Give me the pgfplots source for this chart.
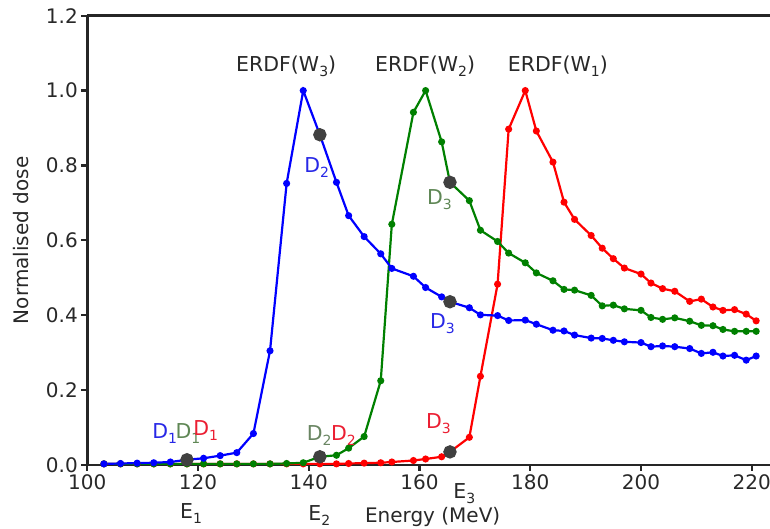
\documentclass[border=0pt]{standalone}
\usepackage{fontspec}
\setmainfont{DejaVu Sans}
\usepackage{pgfplots}
\pgfplotsset{compat=1.18}
\definecolor{mblue}{RGB}{0,0,255}
\definecolor{mgreen}{RGB}{0,128,0}
\definecolor{mred}{RGB}{255,0,0}
\definecolor{dotgray}{RGB}{64,64,64}
\definecolor{txt}{RGB}{40,40,40}
\definecolor{lblblue}{RGB}{40,40,230}
\definecolor{lblgreen}{RGB}{95,135,85}
\definecolor{lblred}{RGB}{235,30,50}
\newcommand{\sub}[1]{\raisebox{-5pt}{\fontsize{14}{14}\selectfont #1}}
\begin{document}
\begin{tikzpicture}
\begin{axis}[name=ax, at={(0,0)}, anchor=south west,
  scale only axis, width=682.7pt, height=449.3pt,
  xmin=100, xmax=223.3, ymin=0, ymax=1.2,
  axis lines*=left,
  axis line style={line width=2.6pt, black!85},
  xtick={100,120,...,220}, ytick={0,0.2,0.4,0.6,0.8,1.0,1.2},
  tick align=outside, major tick length=6pt,
  every tick/.style={line width=2.2pt, black!85},
  tick label style={font=\fontsize{20}{24}\selectfont, text=txt},
  /pgf/number format/assume math mode=true,
  yticklabel style={/pgf/number format/.cd, fixed, fixed zerofill, precision=1},
  xlabel={Energy (MeV)}, ylabel={Normalised dose},
  label style={font=\fontsize{20}{24}\selectfont, text=txt},
  xlabel style={at={(axis description cs:0.5,0)}, anchor=base, inner sep=0pt, yshift=-57.7pt, xshift=4pt},
  ylabel style={at={(axis description cs:0,0.5)}, anchor=south, inner sep=0pt, yshift=58.3pt},
  clip=false,
  every axis plot/.append style={line width=2.2pt, mark=*, mark size=2.4pt},
]
\draw[line width=2.6pt, black!85] (rel axis cs:0,1) -- (rel axis cs:1,1);
% W1 (red)
\addplot[color=mred, mark options={solid, fill=mred, draw=mred}] coordinates {
(103,0.003) (106,0.003) (109,0.003) (112,0.003) (115,0.003) (118,0.003) (121,0.003) (124,0.003) (127,0.003) (130,0.003)
(133,0.003) (136,0.003) (139,0.003) (142,0.003) (145,0.003) (147.2,0.004) (150,0.005) (153,0.006) (155,0.008) (158.9,0.012)
(161.1,0.016) (164,0.022) (165.5,0.035) (169,0.074) (171,0.237) (174.1,0.483) (176.1,0.897) (179.1,1.0) (181.1,0.892) (184.1,0.809)
(186.1,0.702) (188,0.656) (191,0.613) (193,0.579) (195,0.551) (197,0.526) (200,0.510) (201.8,0.486) (203.9,0.471) (206.1,0.464)
(208.8,0.437) (210.9,0.443) (213,0.422) (214.8,0.413) (216.9,0.415) (219,0.403) (220.8,0.385)
};
% W2 (green)
\addplot[color=mgreen, mark options={solid, fill=mgreen, draw=mgreen}] coordinates {
(103,0.003) (106,0.003) (109,0.003) (112,0.003) (115,0.003) (118,0.003) (121,0.003) (124,0.003) (127,0.003) (130,0.003)
(133,0.003) (136,0.004) (139,0.006) (142,0.022) (145,0.026) (147.2,0.045) (150,0.076) (153,0.225) (155,0.643) (158.9,0.942)
(161.1,1.0) (164,0.863) (165.5,0.755) (169,0.706) (171,0.627) (174.1,0.597) (176.1,0.566) (179.1,0.540) (181.1,0.513) (184.1,0.492)
(186.1,0.469) (188,0.467) (191,0.453) (193,0.425) (195,0.427) (197,0.417) (200,0.413) (201.8,0.394) (203.9,0.389) (206.1,0.393)
(208.8,0.384) (210.9,0.373) (213,0.372) (214.8,0.362) (216.9,0.357) (219,0.357) (220.8,0.357)
};
% W3 (blue)
\addplot[color=mblue, mark options={solid, fill=mblue, draw=mblue}] coordinates {
(103,0.003) (106,0.004) (109,0.005) (112,0.006) (115,0.008) (118,0.014) (121,0.018) (124,0.025) (127,0.033) (130,0.084)
(133,0.305) (136,0.752) (139,1.0) (142,0.882) (145,0.755) (147.2,0.666) (150,0.610) (153,0.564) (155,0.525) (158.9,0.504)
(161.1,0.474) (164,0.449) (165.5,0.436) (169,0.420) (171,0.401) (174.1,0.399) (176.1,0.386) (179.1,0.387) (181.1,0.376) (184.1,0.360)
(186.1,0.358) (188,0.347) (191,0.339) (193,0.338) (195,0.333) (197,0.329) (200,0.327) (201.8,0.316) (203.9,0.318) (206.1,0.316)
(208.8,0.311) (210.9,0.298) (213,0.301) (214.8,0.291) (216.9,0.293) (219,0.280) (220.8,0.291)
};
% grey markers
\addplot[only marks, mark=*, mark size=5.6pt, mark options={fill=dotgray, draw=dotgray}] coordinates {
(118,0.014) (142,0.882) (142,0.022) (165.5,0.755) (165.5,0.436) (165.5,0.035)
};
\begin{scope}[every node/.style={anchor=base west, inner sep=0pt, font=\fontsize{20.5}{24}\selectfont}]
\node[text=txt] at (axis cs:126.86,1.050) {ERDF(W\sub{3})};
\node[text=txt] at (axis cs:151.96,1.050) {ERDF(W\sub{2})};
\node[text=txt] at (axis cs:175.93,1.050) {ERDF(W\sub{1})};
\node[text=lblblue] at (axis cs:139.16,0.782) {D\sub{2}};
\node[text=lblgreen] at (axis cs:161.33,0.696) {D\sub{3}};
\node[text=lblblue] at (axis cs:161.89,0.3645) {D\sub{3}};
\node[text=lblred] at (axis cs:161.17,0.098) {D\sub{3}};
\node[text=lblgreen!70!gray] at (axis cs:139.62,0.066) {D\sub{2}};
\node[text=lblred] at (axis cs:144.0,0.066) {D\sub{2}};
\node[text=lblblue] at (axis cs:111.7,0.071) {D\sub{1}};
\node[text=lblgreen] at (axis cs:115.9,0.071) {D\sub{1}};
\node[text=lblred] at (axis cs:119.1,0.080) {D\sub{1}};
\node[text=txt] at (axis cs:116.74,-0.142) {E\sub{1}};
\node[text=txt] at (axis cs:139.91,-0.148) {E\sub{2}};
\node[text=txt] at (axis cs:166.1,-0.089) {E\sub{3}};
\end{scope}
\end{axis}
\pgfresetboundingbox
\path[use as bounding box] ([xshift=-87.3pt, yshift=-64pt]ax.south west) rectangle ([yshift=15.7pt]ax.north east);
\end{tikzpicture}
\end{document}
